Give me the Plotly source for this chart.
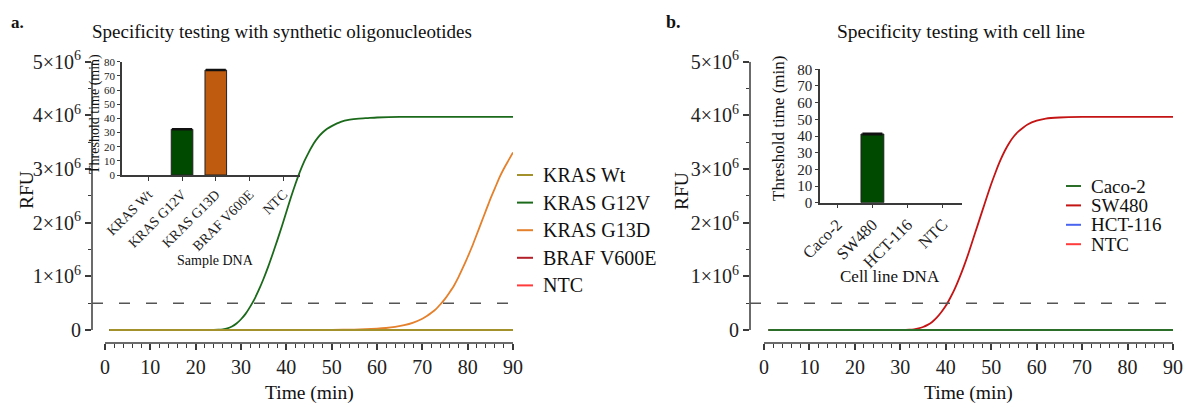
import plotly.graph_objects as go

W, H = 1184, 404

# ---------------- data ----------------
# Panel a : amplification curves (time in min, RFU in units of 1e6)
time_g12v = [1, 10, 20, 24, 25, 26, 27, 28, 29, 30, 31, 32, 33, 34, 35, 36, 37, 38, 39, 40,
             41, 42, 43, 44, 45, 46, 47, 48, 49, 50, 52, 54, 56, 58, 60, 65, 70, 80, 90]
rfu_g12v = [0, 0, 0, 0.002, 0.005, 0.012, 0.03, 0.065, 0.12, 0.2, 0.3, 0.43, 0.58, 0.76, 0.96,
            1.18, 1.42, 1.67, 1.93, 2.2, 2.47, 2.72, 2.95, 3.15, 3.32, 3.47, 3.59, 3.68, 3.75,
            3.8, 3.88, 3.92, 3.94, 3.95, 3.96, 3.97, 3.97, 3.97, 3.97]

time_g13d = [1, 20, 40, 50, 55, 60, 62, 64, 66, 68, 70, 71, 72, 73, 74, 75, 76, 77, 78, 79,
             80, 81, 82, 83, 84, 85, 86, 87, 88, 89, 90]
rfu_g13d = [0, 0, 0, 0.003, 0.008, 0.024, 0.037, 0.058, 0.089, 0.138, 0.21, 0.26, 0.32, 0.39,
            0.48, 0.58, 0.70, 0.83, 0.99, 1.17, 1.36, 1.56, 1.78, 2.0, 2.22, 2.44, 2.64, 2.84,
            3.01, 3.16, 3.31]

time_flat = [1, 90]
rfu_flat = [0, 0]

# Panel b : amplification curves
time_sw480 = [1, 10, 20, 30, 31, 32, 33, 34, 35, 36, 37, 38, 39, 40, 41, 42, 43, 44, 45, 46,
              47, 48, 49, 50, 51, 52, 53, 54, 55, 56, 57, 58, 60, 62, 65, 70, 80, 90]
rfu_sw480 = [0, 0, 0, 0, 0.002, 0.005, 0.012, 0.028, 0.055, 0.095, 0.15, 0.23, 0.33, 0.45, 0.6,
             0.77, 0.97, 1.19, 1.43, 1.69, 1.95, 2.21, 2.47, 2.72, 2.95, 3.16, 3.34, 3.49, 3.61,
             3.7, 3.77, 3.83, 3.9, 3.94, 3.96, 3.97, 3.97, 3.97]

rfu_threshold = 0.5  # x1e6

# Insets : threshold time (min); None = no amplification
samples_a = ["KRAS Wt", "KRAS G12V", "KRAS G13D", "BRAF V600E", "NTC"]
tt_a = [None, 32.3, 74.1, None, None]
tt_a_err = [0, 0.4, 0.4, 0, 0]

samples_b = ["Caco-2", "SW480", "HCT-116", "NTC"]
tt_b = [None, 41.2, None, None]
tt_b_err = [0, 0.4, 0, 0]

y_tickvals = [0, 1, 2, 3, 4, 5]
y_ticktext = ["0"] + [f"{v}×10<sup>6</sup>" for v in y_tickvals[1:]]
x_tickvals = [0, 10, 20, 30, 40, 50, 60, 70, 80, 90]

# ---------------- styles ----------------
C_WT = "#a3922b"
C_G12V = "#1b6a1b"
C_G13D = "#e5802c"
C_BRAF = "#b3202a"
C_NTC = "#ff3b3b"
C_CACO = "#2a6e2a"
C_SW = "#c41414"
C_HCT = "#4a64f0"
BAR_GREEN = "#004a00"
BAR_ORANGE = "#bf5b0f"
AX = "#3a3a3a"
FONT = "Liberation Serif"

legend_a = [("KRAS Wt", C_WT), ("KRAS G12V", C_G12V), ("KRAS G13D", C_G13D),
            ("BRAF V600E", C_BRAF), ("NTC", C_NTC)]
legend_b = [("Caco-2", C_CACO), ("SW480", C_SW), ("HCT-116", C_HCT), ("NTC", C_NTC)]


def px(x):
    return x / W


def py(y):
    return 1 - y / H


def M(vals):
    return [v * 1e6 for v in vals]


fig = go.Figure()

# ---- panel a curves (last drawn on top) ----
for t, v, c in [(time_flat, rfu_flat, C_NTC), (time_flat, rfu_flat, C_BRAF),
                (time_g13d, rfu_g13d, C_G13D), (time_g12v, rfu_g12v, C_G12V),
                (time_flat, rfu_flat, C_WT)]:
    fig.add_trace(go.Scatter(x=t, y=M(v), mode="lines",
                             line=dict(color=c, width=1.8, shape="spline", smoothing=0.6),
                             xaxis="x", yaxis="y", showlegend=False, hoverinfo="skip"))

# ---- panel b curves ----
for t, v, c in [(time_flat, rfu_flat, C_NTC), (time_flat, rfu_flat, C_HCT),
                (time_sw480, rfu_sw480, C_SW), (time_flat, rfu_flat, C_CACO)]:
    fig.add_trace(go.Scatter(x=t, y=M(v), mode="lines",
                             line=dict(color=c, width=1.8, shape="spline", smoothing=0.6),
                             xaxis="x2", yaxis="y2", showlegend=False, hoverinfo="skip"))

# ---- insets ----
fig.add_trace(go.Bar(x=samples_a, y=tt_a, xaxis="x3", yaxis="y3", width=0.64,
                     marker=dict(color=[C_WT, BAR_GREEN, BAR_ORANGE, C_BRAF, C_NTC],
                                 line=dict(color="#222", width=1)),
                     error_y=dict(type="data", array=tt_a_err, color="#111", thickness=1.5, width=10),
                     showlegend=False, hoverinfo="skip"))
fig.add_trace(go.Bar(x=samples_b, y=tt_b, xaxis="x4", yaxis="y4", width=0.65,
                     marker=dict(color=[C_CACO, BAR_GREEN, C_HCT, C_NTC],
                                 line=dict(color="#222", width=1)),
                     error_y=dict(type="data", array=tt_b_err, color="#111", thickness=1.5, width=10),
                     showlegend=False, hoverinfo="skip"))

minor_x = [v for v in range(0, 91, 2) if v % 10 != 0]
minor_y = [0.5e6, 1.5e6, 2.5e6, 3.5e6, 4.5e6]

common_x = dict(showline=False, showgrid=False, zeroline=False, tickmode="array", tickvals=x_tickvals,
                ticks="outside", ticklen=6, tickwidth=1.5, tickcolor=AX, anchor="free",
                automargin=False, tickfont=dict(size=20, color="#222"),
                minor=dict(tickmode="array", tickvals=minor_x, ticks="outside", ticklen=3.5,
                           tickwidth=1.2, tickcolor=AX))
common_y = dict(showline=False, showgrid=False, zeroline=False, tickmode="array",
                tickvals=[v * 1e6 for v in y_tickvals], ticktext=y_ticktext,
                ticks="outside", ticklen=6, tickwidth=1.5, tickcolor=AX, automargin=False,
                range=[-0.06e6, 5e6], domain=[py(333.2), py(61.7)],
                tickfont=dict(size=20, color="#222"),
                minor=dict(tickmode="array", tickvals=minor_y, ticks="outside", ticklen=3.5,
                           tickwidth=1.2, tickcolor=AX))
inset_x = dict(type="category", showline=True, linecolor=AX, linewidth=1.5, showgrid=False,
               zeroline=False, ticks="outside", ticklen=4, tickwidth=1.2, tickcolor=AX,
               tickangle=-45, automargin=False)
inset_y = dict(showline=True, linecolor=AX, linewidth=1.5, showgrid=False, zeroline=False,
               range=[0, 80], tickmode="linear", tick0=0, dtick=10, ticks="outside", ticklen=3,
               tickwidth=1.2, tickcolor=AX, automargin=False)

fig.update_layout(
    width=W, height=H, autosize=False,
    margin=dict(l=0, r=0, t=0, b=0, pad=0, autoexpand=False),
    paper_bgcolor="white", plot_bgcolor="rgba(0,0,0,0)",
    font=dict(family=FONT, color="#222"),
    showlegend=False,
    xaxis=dict(common_x, domain=[px(92), px(513)], range=[-2.87, 90], position=py(343)),
    yaxis=dict(common_y, anchor="x"),
    xaxis2=dict(common_x, domain=[px(750), px(1173)], range=[-3.08, 90], position=py(343)),
    yaxis2=dict(common_y, anchor="x2"),
    xaxis3=dict(inset_x, domain=[px(122), px(300)], range=[-0.779, 4.495], anchor="y3",
                tickfont=dict(size=14, color="#222")),
    yaxis3=dict(inset_y, domain=[py(175), py(61.7)], anchor="x3",
                tickfont=dict(size=11, color="#222")),
    xaxis4=dict(inset_x, domain=[px(820), px(962)], range=[-0.493, 3.553], anchor="y4",
                tickfont=dict(size=16.5, color="#222")),
    yaxis4=dict(inset_y, domain=[py(202.7), py(69.3)], anchor="x4",
                tickfont=dict(size=15, color="#222")),
)

shapes = []
for xa, ya, xl in [("x", "y", 92), ("x2", "y2", 750)]:
    # axis lines (y axis from 0 to 5e6, x axis from 0 to 90, detached)
    shapes.append(dict(type="line", xref="paper", yref=ya, x0=px(xl), x1=px(xl), y0=0, y1=5e6,
                       line=dict(color=AX, width=1.5)))
    shapes.append(dict(type="line", xref=xa, yref="paper", x0=0, x1=90, y0=py(343), y1=py(343),
                       line=dict(color=AX, width=1.5)))
    # threshold
    shapes.append(dict(type="line", xref=xa + " domain", yref=ya, x0=0, x1=1,
                       y0=rfu_threshold * 1e6, y1=rfu_threshold * 1e6,
                       line=dict(color="#555", width=1.5, dash="11px,16px")))

annotations = []
# manual legends
for i, (name, col) in enumerate(legend_a):
    yy = 175 + 27.6 * i
    shapes.append(dict(type="line", xref="paper", yref="paper", x0=px(517), x1=px(533),
                       y0=py(yy), y1=py(yy), line=dict(color=col, width=2)))
    annotations.append(dict(text=name, x=px(541), y=py(yy), xref="paper", yref="paper",
                            xanchor="left", yanchor="middle", showarrow=False,
                            font=dict(size=20, color="#111")))
for i, (name, col) in enumerate(legend_b):
    yy = 186 + 19.4 * i
    shapes.append(dict(type="line", xref="paper", yref="paper", x0=px(1066), x1=px(1081),
                       y0=py(yy), y1=py(yy), line=dict(color=col, width=2)))
    annotations.append(dict(text=name, x=px(1090), y=py(yy), xref="paper", yref="paper",
                            xanchor="left", yanchor="middle", showarrow=False, borderpad=0,
                            font=dict(size=19, color="#111")))


def label(text, x, y, size, angle=0, anchor="center"):
    annotations.append(dict(text=text, x=px(x), y=py(y), xref="paper", yref="paper",
                            xanchor=anchor, yanchor="middle", showarrow=False, textangle=angle,
                            font=dict(size=size, color="#111")))


label("<b>a.</b>", 9, 22, 17, anchor="left")
label("<b>b.</b>", 664, 22, 18, anchor="left")
label("Specificity testing with synthetic oligonucleotides", 282, 32, 19)
label("Specificity testing with cell line", 961, 32, 19.5)
label("RFU", 26, 190, 19.5, angle=-90)
label("RFU", 681, 191, 19.5, angle=-90)
label("Time (min)", 309, 393, 19.5)
label("Time (min)", 968, 393, 19.5)
label("Threshold time (min)", 95, 114, 14, angle=-90)
label("Threshold time (min)", 778, 129, 17, angle=-90)
label("Sample DNA", 215, 260, 14)
label("Cell line DNA", 890, 276, 17)

fig.update_layout(shapes=shapes, annotations=annotations)

fig.write_html("out.html", config={"displayModeBar": False},
               post_script="document.body.style.margin='0';")
